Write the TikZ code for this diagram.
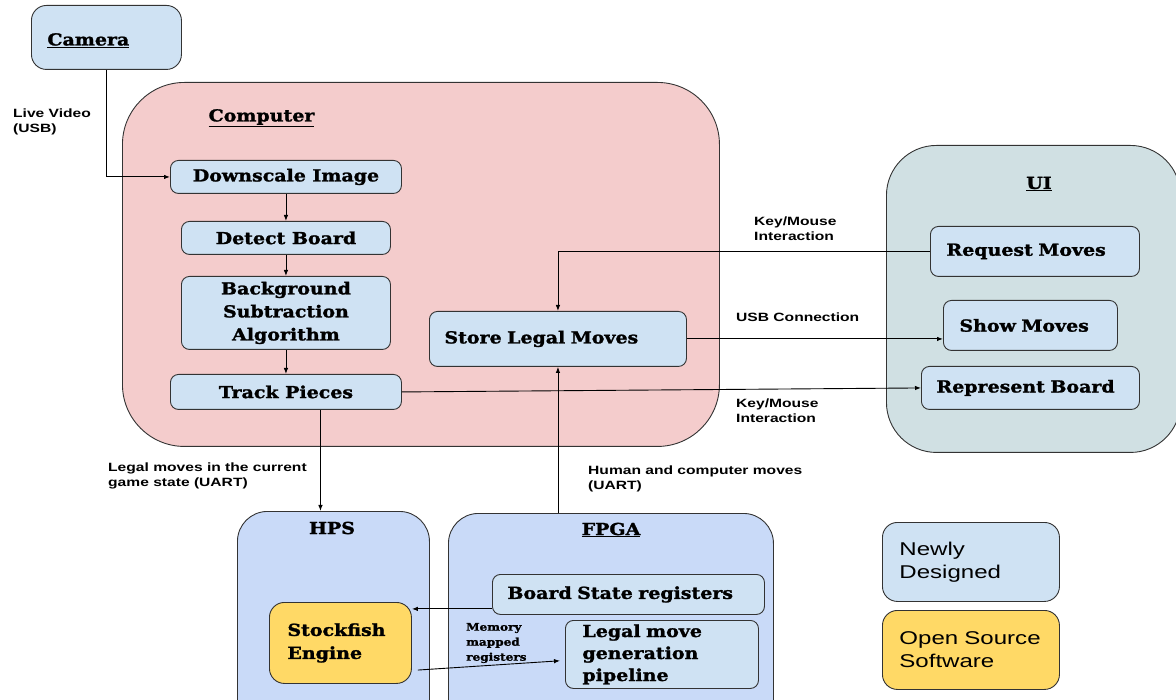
\documentclass[tikz,border=0pt]{standalone}
\usepackage{fontspec}
\setmainfont{DejaVu Serif}[FakeStretch=1.15, BoldFeatures={FakeBold=1.5}]
\newfontfamily\lab{Liberation Sans}[FakeStretch=1.3]
\usetikzlibrary{arrows.meta}
\definecolor{boxblue}{HTML}{CFE2F3}
\definecolor{compred}{HTML}{F4CCCC}
\definecolor{uicyan}{HTML}{D0E0E3}
\definecolor{hwblue}{HTML}{C9DAF8}
\definecolor{osyellow}{HTML}{FFD966}
\definecolor{edge}{HTML}{333333}
\tikzset{
  bxfont/.style={font=\fontsize{16.5}{23}\selectfont\bfseries},
  box/.style={draw=edge, line width=0.9pt, fill=boxblue, rounded corners=8pt, anchor=north west, inner sep=0pt, bxfont, align=center},
  lbox/.style={box, align=left, inner xsep=#1},
  cont/.style={draw=edge, line width=0.9pt, anchor=north west, inner sep=0pt},
  ttl/.style={bxfont, inner sep=0pt},
  lbl/.style={font=\lab\fontsize{12}{15}\selectfont\bfseries, align=left, anchor=west, inner sep=0pt},
  arr/.style={-{Latex[length=6pt,width=4.5pt]}, line width=0.9pt, draw=black},
}
\begin{document}
\begin{tikzpicture}[x=1pt,y=-1pt]
\useasboundingbox (0,0) rectangle (1176,700);
% containers
\node[cont, fill=compred, rounded corners=62pt, minimum width=597pt, minimum height=364pt] (comp) at (122,82) {};
\node[cont, fill=uicyan, rounded corners=50pt, minimum width=294pt, minimum height=307pt] (ui) at (886,145) {};
\node[cont, fill=hwblue, rounded corners=30pt, minimum width=192pt, minimum height=230pt] (hps) at (237,511) {};
\node[cont, fill=hwblue, rounded corners=30pt, minimum width=325pt, minimum height=230pt] (fpga) at (448,513) {};
% titles
\node[ttl] (comptitle) at (261.5,118) {\underline{Computer}};
\node[ttl] (uititle) at (1039,184) {\underline{UI}};
\node[ttl] (hpstitle) at (332,528) {HPS};
\node[ttl] (fpgatitle) at (611,530) {\underline{FPGA}};
% boxes
\node[box, rounded corners=15pt, minimum width=150pt, minimum height=64pt, text width=118pt, align=left, inner xsep=16pt, text height=20pt, text depth=4pt] (cam) at (31,5) {\underline{Camera}};
\node[box, minimum width=231pt, minimum height=33pt] (dl) at (170,160) {Downscale Image};
\node[box, minimum width=209pt, minimum height=33pt] (db) at (181,221) {Detect Board};
\node[box, minimum width=209pt, minimum height=73pt] (bg) at (181,276) {Background\\Subtraction\\Algorithm};
\node[box, minimum width=231pt, minimum height=35pt] (tp) at (170,374) {Track Pieces};
\node[lbox=15pt, minimum width=257pt, minimum height=55pt, text width=227pt] (slm) at (429,311) {Store Legal Moves};
\node[lbox=16pt, minimum width=209pt, minimum height=50pt, text width=177pt] (rm) at (930,226) {Request Moves};
\node[lbox=16pt, minimum width=174pt, minimum height=50pt, text width=142pt] (sm) at (943,300) {Show Moves};
\node[lbox=15pt, minimum width=218pt, minimum height=43pt, text width=188pt] (rb) at (921,366) {Represent Board};
\node[lbox=15pt, minimum width=272pt, minimum height=40pt, text width=242pt] (bs) at (492,574) {Board State registers};
\node[lbox=17pt, minimum width=193pt, minimum height=68pt, text width=159pt, font=\fontsize{16.5}{22}\selectfont\bfseries] (lm) at (565,620) {Legal move\\generation\\pipeline};
\node[lbox=18pt, fill=osyellow, rounded corners=15pt, minimum width=142pt, minimum height=81pt, text width=106pt] (sf) at (269,602) {Stockfish\\Engine};
% legend
\node[lbox=17pt, rounded corners=15pt, minimum width=177pt, minimum height=79pt, text width=143pt, font=\lab\fontsize{18.5}{23}\selectfont] (nd) at (882,522) {Newly\\Designed};
\node[lbox=17pt, fill=osyellow, rounded corners=15pt, minimum width=177pt, minimum height=79pt, text width=143pt, font=\lab\fontsize{18.5}{23}\selectfont] (os) at (882,610) {Open Source\\Software};
% labels
\node[lbl] (lvideo) at (13,122) {Live Video\\(USB)};
\node[lbl] (lkm1) at (754,228.5) {Key/Mouse\\Interaction};
\node[lbl] (lusb) at (736,317) {USB Connection};
\node[lbl] (lkm2) at (736,410.5) {Key/Mouse\\Interaction};
\node[lbl] (llegal) at (108,475.5) {Legal moves in the current\\game state (UART)};
\node[lbl] (lhuman) at (588,478.5) {Human and computer moves\\(UART)};
\node[anchor=west, inner sep=0pt, align=left, font=\fontsize{10.5}{15}\selectfont\bfseries] (lmem) at (466,643) {Memory\\mapped\\registers};
% connectors
\draw[arr] (cam.south) |- (dl.west);
\draw[arr] (dl.south) -- (db.north);
\draw[arr] (db.south) -- (bg.north);
\draw[arr] (bg.south) -- (tp.north);
\draw[arr] (rm.west) -| (slm.north);
\draw[arr] (slm.east) -- (slm.east -| sm.west);
\draw[arr] (tp.east) -- (rb.west);
\draw[arr] ([xshift=34.5pt]tp.south) -- ([xshift=34.5pt]tp.south |- hps.north);
\draw[arr] (slm.south |- fpga.north) -- (slm.south);
\draw[arr] ([yshift=6pt]bs.south west) -- ([yshift=6pt]bs.south west -| sf.east);
\draw[arr, shorten <=6pt, shorten >=5pt] ([yshift=-27.5pt]sf.east) -- ([yshift=-6pt]lm.west);
\end{tikzpicture}
\end{document}
